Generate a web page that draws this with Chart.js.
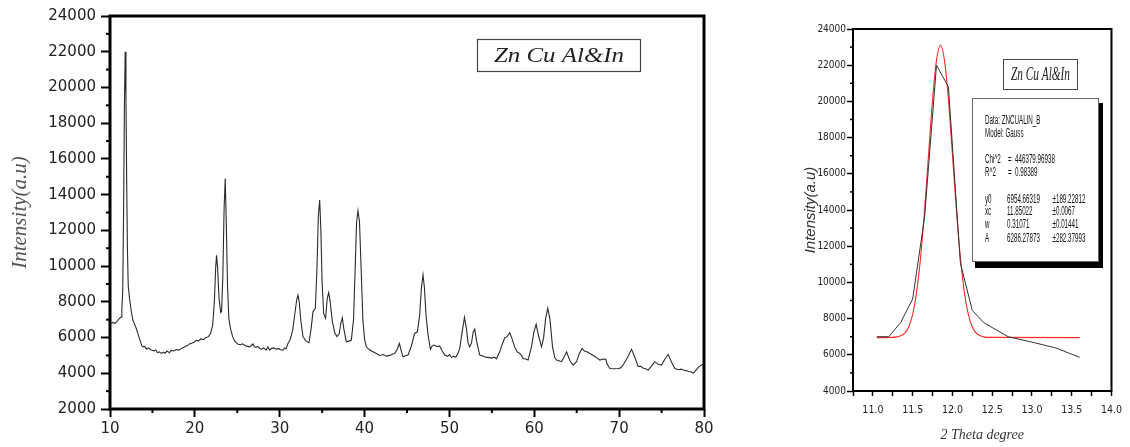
<!DOCTYPE html>
<html>
<head>
<meta charset="utf-8">
<title>Zn Cu Al&amp;In XRD</title>
<script src="https://cdn.jsdelivr.net/npm/chart.js@4.4.1/dist/chart.umd.min.js"></script>
<style>
  html, body { margin: 0; padding: 0; background: #fff; }
  body { width: 1130px; height: 447px; position: relative; overflow: hidden; }
  #xrd-chart { position: absolute; left: 0; top: 0; }
  #fit-chart { position: absolute; left: 800px; top: 0; }
</style>
</head>
<body>
<canvas id="xrd-chart" width="720" height="447"></canvas>
<canvas id="fit-chart" width="330" height="447"></canvas>
<script>
// XRD pattern (left panel), 2θ in degrees / intensity in a.u.
const xrdAngle = [
  10.0, 10.3, 10.6, 10.9, 11.12, 11.3, 11.4, 11.5, 11.6, 11.7, 11.79, 11.88, 11.97, 12.06, 12.15, 12.3, 12.5, 12.69, 12.9, 13.1,
  13.28, 13.5, 13.75, 13.9, 14.1, 14.3, 14.5, 14.86, 15.2, 15.4, 15.6, 15.8, 16.04, 16.3, 16.5, 16.7, 17.0, 17.2, 17.5, 17.8,
  18.1, 18.4, 18.8, 19.1, 19.4, 19.7, 19.96, 20.2, 20.4, 20.7, 21.0, 21.3, 21.6, 21.85, 22.1, 22.3, 22.45, 22.56, 22.68, 22.85,
  23.05, 23.15, 23.3, 23.45, 23.58, 23.7, 23.85, 24.0, 24.2, 24.45, 24.7, 24.9, 25.1, 25.4, 25.6, 25.86, 26.1, 26.45, 26.84, 27.0,
  27.2, 27.4, 27.63, 27.9, 28.1, 28.4, 28.6, 28.8, 29.0, 29.3, 29.6, 29.9, 30.1, 30.38, 30.6, 30.75, 30.97, 31.2, 31.4, 31.56,
  31.8, 32.0, 32.15, 32.3, 32.5, 32.74, 33.1, 33.45, 33.7, 33.92, 34.2, 34.4, 34.55, 34.71, 34.85, 35.0, 35.18, 35.41, 35.6, 35.77,
  35.95, 36.2, 36.5, 36.75, 37.0, 37.2, 37.38, 37.55, 37.85, 38.15, 38.44, 38.7, 38.9, 39.05, 39.22, 39.4, 39.6, 39.8, 40.0, 40.21,
  40.6, 41.0, 41.39, 41.8, 42.2, 42.57, 43.0, 43.3, 43.55, 43.85, 44.1, 44.3, 44.53, 44.8, 45.12, 45.5, 45.9, 46.23, 46.5, 46.7,
  46.89, 47.05, 47.25, 47.48, 47.76, 48.0, 48.19, 48.5, 48.86, 49.15, 49.45, 49.8, 50.0, 50.24, 50.5, 50.74, 51.0, 51.21, 51.5, 51.77,
  52.0, 52.2, 52.39, 52.6, 52.8, 52.98, 53.2, 53.57, 54.0, 54.3, 54.55, 55.0, 55.3, 55.54, 55.93, 56.2, 56.52, 56.8, 57.11, 57.4,
  57.7, 58.0, 58.29, 58.5, 58.68, 59.0, 59.27, 59.67, 59.95, 60.22, 60.5, 60.85, 61.1, 61.35, 61.59, 61.85, 62.15, 62.4, 62.62, 62.9,
  63.21, 63.5, 63.8, 64.2, 64.58, 64.98, 65.3, 65.64, 65.9, 66.2, 66.55, 67.1, 67.4, 67.73, 68.1, 68.43, 68.6, 68.9, 69.4, 69.88,
  70.2, 70.47, 71.0, 71.46, 71.85, 72.24, 72.5, 72.8, 73.1, 73.42, 73.8, 74.21, 74.6, 75.0, 75.4, 75.78, 76.2, 76.57, 77.0, 77.3,
  77.55, 77.9, 78.2, 78.5, 78.73, 79.0, 79.32, 79.7, 80.0
];
const xrdIntensity = [
  6750, 6850, 6800, 6950, 7070, 7150, 7600, 8600, 13000, 19000, 22000, 19500, 14500, 10800, 8900, 8200, 7500, 6980, 6750, 6500,
  6230, 5900, 5550, 5480, 5500, 5350, 5420, 5300, 5250, 5300, 5150, 5200, 5110, 5180, 5120, 5250, 5150, 5280, 5250, 5330,
  5300, 5380, 5480, 5550, 5650, 5700, 5760, 5850, 5800, 5920, 5880, 6000, 6050, 6230, 6700, 8000, 9900, 10600, 9900, 8200,
  7400, 7450, 9500, 13300, 14900, 12500, 8900, 7100, 6500, 6050, 5800, 5700, 5620, 5600, 5650, 5580, 5520, 5480, 5640, 5500,
  5450, 5500, 5390, 5350, 5420, 5300, 5480, 5300, 5380, 5420, 5350, 5380, 5320, 5300, 5420, 5380, 5670, 5850, 6150, 6510,
  7400, 8100, 8380, 8000, 6900, 6050, 5800, 5710, 6500, 7440, 7630, 10000, 12800, 13700, 12000, 9000, 7350, 7070, 8200, 8510,
  8000, 6900, 6250, 6050, 6200, 6800, 7110, 6500, 5760, 5800, 5860, 7000, 10000, 12400, 13100, 12500, 9800, 7000, 5900, 5480,
  5300, 5200, 5110, 5000, 5050, 4960, 5000, 5080, 5110, 5350, 5670, 5300, 4920, 4980, 5020, 5500, 6230, 6320, 7300, 8800,
  9500, 8800, 7200, 6140, 5340, 5550, 5580, 5500, 5520, 5250, 5020, 4950, 5050, 4890, 4950, 4890, 5100, 5390, 6300, 7130,
  6500, 5700, 5480, 5700, 6300, 6470, 5800, 5020, 4950, 4900, 4890, 4850, 4900, 4810, 5200, 5600, 5990, 6050, 6270, 5900,
  5450, 5200, 5110, 5000, 4830, 4800, 4740, 5480, 6300, 6740, 6100, 5480, 6000, 7100, 7640, 7000, 5480, 4900, 4740, 4700,
  4650, 4900, 5200, 4700, 4460, 4650, 5100, 5390, 5250, 5200, 5110, 4950, 4850, 4740, 4800, 4780, 4500, 4270, 4250, 4270,
  4300, 4460, 4900, 5340, 4900, 4370, 4400, 4300, 4250, 4180, 4400, 4650, 4500, 4460, 4800, 5050, 4600, 4270, 4200, 4230,
  4180, 4150, 4100, 4080, 4000, 4150, 4330, 4460, 4500
];

// Gauss fit of the first reflection (right panel)
const fitAngle = [11.05, 11.2, 11.35, 11.5, 11.65, 11.8, 11.95, 12.1, 12.25, 12.4, 12.7, 13.0, 13.3, 13.6];
const fitIntensity = [7000, 7000, 7790, 9080, 13600, 22000, 20800, 11070, 8450, 7760, 7000, 6700, 6380, 5860];
const gaussAngle = [11.05, 11.25, 11.3, 11.35, 11.4, 11.45, 11.5, 11.55, 11.6, 11.65, 11.7, 11.75, 11.8, 11.85,
  11.9, 11.95, 12.0, 12.05, 12.1, 12.15, 12.2, 12.25, 12.3, 12.35, 12.4, 12.45, 13.6];
const gaussIntensity = [6950, 6960, 6990, 7050, 7200, 7540, 8230, 9460, 11380, 14000, 17080, 20080, 22280, 23100,
  22280, 20080, 17080, 14000, 11380, 9460, 8230, 7540, 7200, 7050, 6990, 6960, 6950];

const sampleName = 'Zn Cu Al&In';
const fitInfo = [
  ['Data: ZNCUALIN_B'],
  ['Model: Gauss'],
  [],
  ['Chi^2', '=', '446379.96938'],
  ['R^2', '=', '0.98389'],
  [],
  ['y0', '6954.66319', '\u00b1189.22812'],
  ['xc', '11.85022', '\u00b10.0067'],
  ['w', '0.31071', '\u00b10.01441'],
  ['A', '6286.27873', '\u00b1282.37993']
];

// text squeezed/stretched to a given width
function fitText(ctx, text, x, y, width, font) {
  ctx.save();
  ctx.font = font;
  const w = ctx.measureText(text).width;
  ctx.translate(x, y);
  ctx.scale(width / w, 1);
  ctx.textAlign = 'center';
  ctx.textBaseline = 'middle';
  ctx.fillText(text, 0, 0);
  ctx.restore();
}

// minor ticks + black frame
const axisDecor = {
  id: 'axisDecor',
  afterDraw(chart, args, opts) {
    const { ctx, chartArea: a, scales } = chart;
    ctx.save();
    ctx.strokeStyle = '#000';
    ctx.lineWidth = opts.tickWidth;
    scales.y.ticks.forEach(t => {
      if (t.value % opts.yMajor !== 0) {
        const y = scales.y.getPixelForValue(t.value);
        ctx.beginPath(); ctx.moveTo(a.left - opts.minorLen, y); ctx.lineTo(a.left, y); ctx.stroke();
      }
    });
    if (opts.xMajor) {
      scales.x.ticks.forEach(t => {
        if (t.value % opts.xMajor !== 0) {
          const x = scales.x.getPixelForValue(t.value);
          ctx.beginPath(); ctx.moveTo(x, a.bottom); ctx.lineTo(x, a.bottom + opts.minorLen); ctx.stroke();
        }
      });
    }
    ctx.lineWidth = opts.frameWidth;
    ctx.strokeRect(a.left, a.top, a.right - a.left, a.bottom - a.top);
    ctx.restore();
  }
};

const xrdLabel = {
  id: 'xrdLabel',
  afterDraw(chart) {
    const ctx = chart.ctx;
    ctx.save();
    ctx.strokeStyle = '#444';
    ctx.lineWidth = 1.2;
    ctx.strokeRect(477.5, 39.5, 163, 32);
    ctx.fillStyle = '#222';
    fitText(ctx, sampleName, 559, 56, 130, 'italic 22px "Liberation Serif"');
    ctx.restore();
  }
};

const fitLabel = {
  id: 'fitLabel',
  afterDraw(chart) {
    const ctx = chart.ctx;
    ctx.save();
    // sample name box
    ctx.strokeStyle = '#444';
    ctx.lineWidth = 1;
    ctx.strokeRect(203.5, 59.5, 74, 30);
    ctx.fillStyle = '#222';
    fitText(ctx, sampleName, 240.5, 74.5, 59, 'italic 19px "Liberation Serif"');
    // parameter box with shadow
    ctx.fillStyle = '#000';
    ctx.fillRect(175, 103, 128, 165);
    ctx.fillStyle = '#fff';
    ctx.fillRect(172, 98, 127, 164);
    ctx.strokeStyle = '#666';
    ctx.strokeRect(172.5, 98.5, 126, 163);
    ctx.fillStyle = '#111';
    ctx.font = '12px "Liberation Sans"';
    ctx.textBaseline = 'middle';
    const sx = 0.52;
    const rowY = [120.7, 133.3, 146.5, 160, 172.7, 186, 199.3, 212, 225, 238.3];
    fitInfo.forEach((row, i) => {
      if (!row.length) return;
      let cols;
      if (row.length === 1) cols = [185];
      else if (row[1] === '=') cols = [185, 208, 215];
      else cols = [185, 207, 252.5];
      row.forEach((txt, j) => {
        ctx.save();
        ctx.translate(cols[j], rowY[i]);
        ctx.scale(sx, 1);
        ctx.fillText(txt, 0, 0);
        ctx.restore();
      });
    });
    ctx.restore();
  }
};

new Chart(document.getElementById('xrd-chart'), {
  type: 'line',
  data: {
    datasets: [{
      data: xrdAngle.map((x, i) => ({ x: x, y: xrdIntensity[i] })),
      borderColor: '#2b2b2b',
      borderWidth: 1.1,
      pointRadius: 0,
      tension: 0
    }]
  },
  options: {
    responsive: false,
    animation: false,
    layout: { padding: { top: 16, right: 16, left: 0, bottom: 0 } },
    plugins: {
      legend: { display: false },
      tooltip: { enabled: false },
      axisDecor: { tickWidth: 2, minorLen: 4, yMajor: 2000, xMajor: 10, frameWidth: 3 }
    },
    scales: {
      x: {
        type: 'linear', min: 10, max: 80,
        afterFit: s => { s.height = 38; },
        border: { display: false },
        grid: {
          drawOnChartArea: false, tickLength: 8, tickWidth: 2,
          tickColor: c => (c.tick && c.tick.value % 10 === 0) ? '#000' : 'rgba(0,0,0,0)'
        },
        ticks: {
          stepSize: 5, autoSkip: false, maxRotation: 0, padding: 3, color: '#222',
          font: { family: '"DejaVu Sans"', size: 15 },
          callback: v => v % 10 === 0 ? String(v) : ''
        }
      },
      y: {
        min: 2000, max: 24000,
        afterFit: s => { s.width = 110; },
        border: { display: false },
        grid: {
          drawOnChartArea: false, tickLength: 9, tickWidth: 2,
          tickColor: c => (c.tick && c.tick.value % 2000 === 0) ? '#000' : 'rgba(0,0,0,0)'
        },
        ticks: {
          stepSize: 1000, autoSkip: false, padding: 5, color: '#222',
          font: { family: '"DejaVu Sans"', size: 15 },
          callback: v => v % 2000 === 0 ? String(v) : ''
        },
        title: {
          display: true, text: 'Intensity(a.u)', color: '#555',
          font: { family: '"Liberation Serif"', style: 'italic', size: 21 },
          padding: { top: 8, bottom: 0 }
        }
      }
    }
  },
  plugins: [axisDecor, xrdLabel]
});

const narrowFont = '"Liberation Sans Narrow", "DejaVu Sans Condensed", sans-serif';

new Chart(document.getElementById('fit-chart'), {
  type: 'line',
  data: {
    datasets: [{
      data: fitAngle.map((x, i) => ({ x: x, y: fitIntensity[i] })),
      borderColor: '#333',
      borderWidth: 1,
      pointRadius: 0,
      tension: 0
    }, {
      data: gaussAngle.map((x, i) => ({ x: x, y: gaussIntensity[i] })),
      borderColor: '#ff2626',
      borderWidth: 1.1,
      pointRadius: 0,
      cubicInterpolationMode: 'monotone'
    }]
  },
  options: {
    responsive: false,
    animation: false,
    layout: { padding: { top: 29, right: 11, left: 0, bottom: 0 } },
    plugins: {
      legend: { display: false },
      tooltip: { enabled: false },
      axisDecor: { tickWidth: 1.5, minorLen: 3, yMajor: 2000, xMajor: 0, frameWidth: 2 }
    },
    scales: {
      x: {
        type: 'linear', min: 10.75, max: 14,
        afterFit: s => { s.height = 56; },
        border: { display: false },
        grid: { drawOnChartArea: false, tickLength: 5, tickWidth: 1.5, tickColor: '#000' },
        ticks: {
          stepSize: 0.25, autoSkip: false, maxRotation: 0, padding: 8, color: '#222',
          font: { family: narrowFont, size: 10.5 },
          callback: v => Math.abs(v * 2 - Math.round(v * 2)) < 1e-6 ? v.toFixed(1) : ''
        },
        title: {
          display: true, text: '2 Theta degree', color: '#333',
          font: { family: '"Liberation Serif"', style: 'italic', size: 14 },
          padding: { top: 0, bottom: 3 }
        }
      },
      y: {
        min: 4000, max: 24000,
        afterFit: s => { s.width = 53; },
        border: { display: false },
        grid: {
          drawOnChartArea: false, tickLength: 6, tickWidth: 1.5,
          tickColor: c => (c.tick && c.tick.value % 2000 === 0) ? '#000' : 'rgba(0,0,0,0)'
        },
        ticks: {
          stepSize: 1000, autoSkip: false, padding: 1, color: '#222',
          font: { family: narrowFont, size: 10 },
          callback: v => v % 2000 === 0 ? String(v) : ''
        },
        title: {
          display: true, text: 'Intensity(a.u)', color: '#333',
          font: { family: '"Liberation Sans"', style: 'italic', size: 15 },
          padding: { top: 2, bottom: 0 }
        }
      }
    }
  },
  plugins: [axisDecor, fitLabel]
});
</script>
</body>
</html>
